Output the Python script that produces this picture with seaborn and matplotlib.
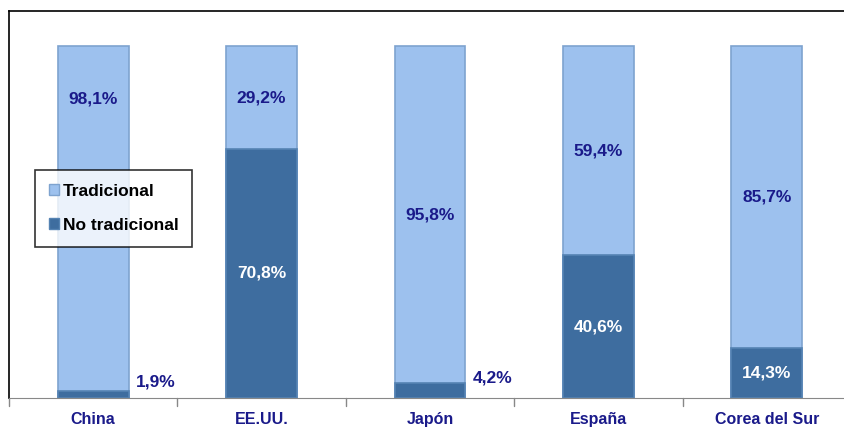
import matplotlib
matplotlib.use("Agg")
import matplotlib.pyplot as plt
import seaborn as sns
import numpy as np
from matplotlib.patches import Patch

paises = ["China", "EE.UU.", "Japón", "España", "Corea del Sur"]
tradicional = [98.1, 29.2, 95.8, 59.4, 85.7]
no_tradicional = [1.9, 70.8, 4.2, 40.6, 14.3]

sns.set_style("white")
plt.rcParams['font.family'] = ['Liberation Sans', 'DejaVu Sans']

light = "#9dc1ee"
dark = "#3e6d9f"
navy = "#1a1a8a"

fig = plt.figure(figsize=(8.45, 4.28), dpi=100)
ax = fig.add_axes([9 / 845, 30 / 428, 842 / 845, 387 / 428])

total = [a + b for a, b in zip(tradicional, no_tradicional)]
sns.barplot(x=paises, y=total, color=light, width=0.42, ax=ax,
            edgecolor="#7ea3cf", linewidth=1.2, saturation=1)
sns.barplot(x=paises, y=no_tradicional, color=dark, width=0.42, ax=ax,
            edgecolor="#5583b3", linewidth=1.2, saturation=1)

ax.set_ylim(0, 110)
ax.set_xlim(-0.5, 4.5)
ax.set_yticks([])
ax.set_xticks(np.arange(len(paises)))
ax.set_xticklabels(paises, color=navy, fontweight="bold", fontsize=11.5)
ax.tick_params(axis="x", length=0, pad=10)
for b in np.arange(len(paises) + 1) - 0.5:
    ax.plot([b, b], [0, -2.2], color="#888888", lw=1, clip_on=False)

for s in ["left", "top"]:
    ax.spines[s].set_color("black")
    ax.spines[s].set_linewidth(1.2)
ax.spines["bottom"].set_color("#888888")
ax.spines["right"].set_visible(False)

# etiquetas
for i, (t, n) in enumerate(zip(tradicional, no_tradicional)):
    yt = n + t / 2
    if i == 0:
        yt = 85
    ax.text(i, yt, f"{t:.1f}%".replace(".", ","), ha="center", va="center",
            color=navy, fontweight="bold", fontsize=12.5)
    if n > 10:
        ax.text(i, n / 2, f"{n:.1f}%".replace(".", ","), ha="center", va="center",
                color="white", fontweight="bold", fontsize=12.5)
    else:
        ax.text(i + 0.37, n / 2 + 3.5, f"{n:.1f}%".replace(".", ","), ha="center",
                va="center", color=navy, fontweight="bold", fontsize=12.5)

handles = [Patch(facecolor=light, edgecolor="#7ea3cf"),
           Patch(facecolor=dark, edgecolor="#5583b3")]
leg = ax.legend(handles, ["Tradicional", "No tradicional"], loc="upper left",
                bbox_to_anchor=(26 / 842, 1 - 159 / 387), borderaxespad=0,
                frameon=True, fancybox=False, labelcolor="black",
                edgecolor="black", handlelength=0.6, handleheight=0.6,
                handletextpad=0.2, labelspacing=1.1, borderpad=0.8,
                prop={"weight": "bold", "size": 12.5})
leg.get_frame().set_linewidth(1.2)

fig.savefig("out.png", dpi=100)
